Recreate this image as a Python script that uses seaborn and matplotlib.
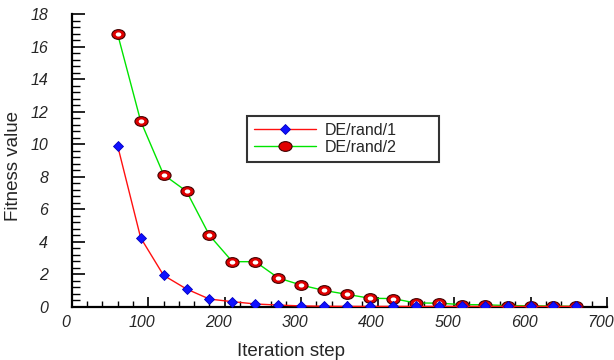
import numpy as np
import pandas as pd
import matplotlib
matplotlib.use("Agg")
import matplotlib.pyplot as plt
import seaborn as sns
from matplotlib.markers import MarkerStyle
from matplotlib.transforms import Affine2D, ScaledTranslation
from matplotlib.ticker import MultipleLocator
from matplotlib.lines import Line2D

# Iteration steps and fitness values of the two DE strategies
steps = [60, 90, 120, 150, 180, 210, 240, 270, 300, 330, 360,
         390, 420, 450, 480, 510, 540, 570, 600, 630, 660]
rand1 = [9.88, 4.24, 1.93, 1.09, 0.47, 0.31, 0.17, 0.10, 0.05, 0.03, 0.02,
         0.02, 0.02, 0.02, 0.02, 0.02, 0.02, 0.02, 0.02, 0.02, 0.02]
rand2 = [16.75, 11.42, 8.12, 7.10, 4.39, 2.77, 2.77, 1.77, 1.33, 1.00, 0.76,
         0.52, 0.50, 0.23, 0.22, 0.13, 0.12, 0.07, 0.06, 0.04, 0.02]
series_names = ["DE/rand/1", "DE/rand/2"]

sns.set_theme(style="white")
plt.rcParams["font.family"] = ["Liberation Sans", "DejaVu Sans"]

fig = plt.figure(figsize=(6.14, 3.6), dpi=100)
ax = fig.add_axes([0.117, 0.148, 0.8716, 0.813])

df1 = pd.DataFrame({"step": steps, "fitness": rand1})
df2 = pd.DataFrame({"step": steps, "fitness": rand2})

ellipse = MarkerStyle("o", transform=Affine2D().scale(1.35, 1.0))
ellipse_in = MarkerStyle("o", transform=Affine2D().scale(1.35, 1.0))

# DE/rand/2: green line with red ball markers
sns.lineplot(data=df2, x="step", y="fitness", ax=ax, color="#00e400", lw=1.0,
             marker=ellipse, markersize=7.0, markerfacecolor="#e00000",
             markeredgecolor="#400000", markeredgewidth=0.8, zorder=3)
ax.plot(df2["step"], df2["fitness"], ls="none", marker=ellipse_in,
        markersize=3.0, markerfacecolor="white", markeredgecolor="none",
        zorder=4)

# DE/rand/1: red line with blue diamond markers
sns.lineplot(data=df1, x="step", y="fitness", ax=ax, color="#ff1010", lw=1.0,
             marker="D", markersize=5, markerfacecolor="#1010ff",
             markeredgecolor="#0000c0", markeredgewidth=0.6, zorder=5)

ax.set_xlim(0, 700)
ax.set_ylim(0, 18)
ax.xaxis.set_major_locator(MultipleLocator(100))
ax.xaxis.set_minor_locator(MultipleLocator(20))
ax.yaxis.set_major_locator(MultipleLocator(2))
ax.yaxis.set_minor_locator(MultipleLocator(0.4))

for side in ("top", "right"):
    ax.spines[side].set_visible(False)
for side in ("left", "bottom"):
    ax.spines[side].set_linewidth(1.6)
    ax.spines[side].set_color("black")

ax.tick_params(axis="x", which="major", direction="in", length=7, width=1.2,
               pad=6, labelsize=11.5, color="black", bottom=True)
ax.tick_params(axis="x", which="minor", direction="in", length=4, width=1.0,
               color="black", bottom=True)
ax.tick_params(axis="y", which="major", direction="in", length=9.5, width=1.2,
               pad=17, labelsize=11.5, color="black", left=True)
ax.tick_params(axis="y", which="minor", direction="in", length=6, width=1.0,
               color="black", left=True)
shift = ScaledTranslation(-6 / 100, 0, fig.dpi_scale_trans)
for lab in ax.get_xticklabels():
    lab.set_fontstyle("italic")
    lab.set_transform(lab.get_transform() + shift)
for lab in ax.get_yticklabels():
    lab.set_fontstyle("italic")

ax.set_xlabel("Iteration step", fontsize=13.5)
ax.set_ylabel("Fitness value", fontsize=13.5)
ax.xaxis.set_label_coords(0.41, -0.125)
ax.yaxis.set_label_coords(-0.093, 0.48)

handles = [
    Line2D([], [], color="#ff1010", lw=1.0, marker="D", markersize=5,
           markerfacecolor="#1010ff", markeredgecolor="#0000c0",
           markeredgewidth=0.6),
    Line2D([], [], color="#00e400", lw=1.0, marker=ellipse, markersize=7.0,
           markerfacecolor="#e00000", markeredgecolor="#400000",
           markeredgewidth=0.8),
]
leg = ax.legend(handles, series_names, loc="upper left", mode="expand",
                bbox_to_anchor=(0.327, 0.501, 0.359, 0.1515), borderaxespad=0,
                fontsize=11.5, frameon=True, fancybox=False, handlelength=3.9,
                handletextpad=0.5, labelspacing=0.1, borderpad=0.45)
leg.get_frame().set_edgecolor("black")
leg.get_frame().set_linewidth(1.5)

fig.savefig("out.png", dpi=100)
